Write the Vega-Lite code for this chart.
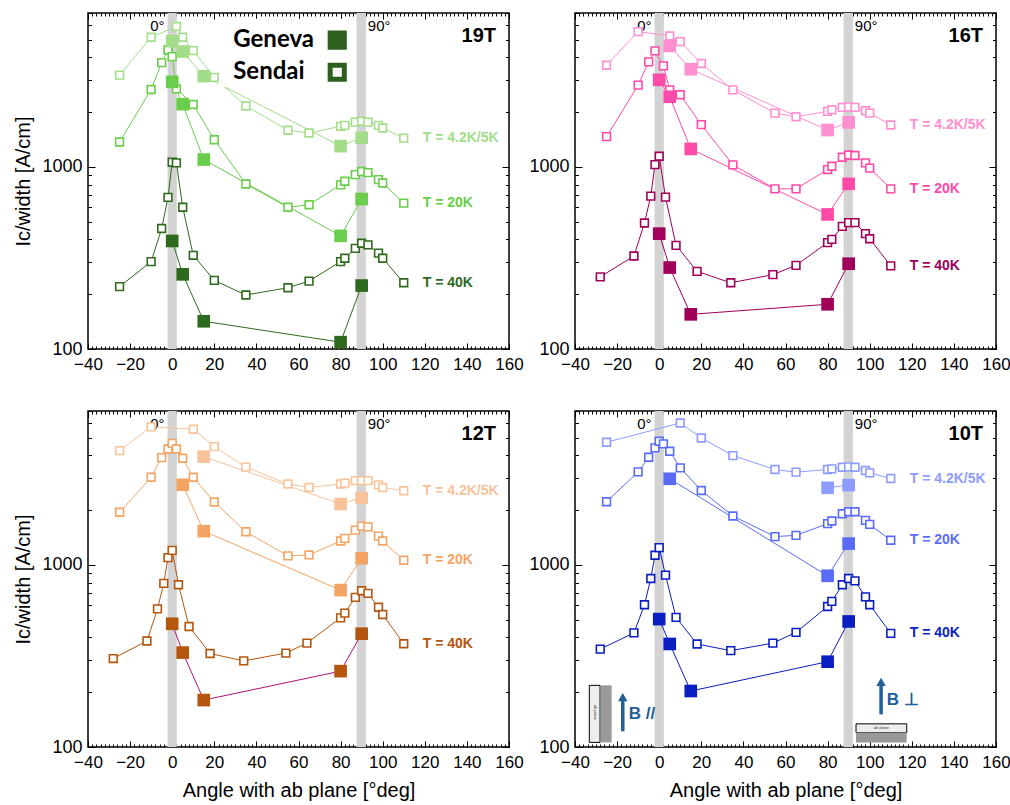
{
"$schema": "https://vega.github.io/schema/vega-lite/v6.json",
"padding": {"left": 13, "top": 11, "right": 5, "bottom": 2},
"config": {"font": "Liberation Sans", "view": {"stroke": "#000", "strokeWidth": 1.5}, "axis": {"labelColor": "#000", "tickColor": "#000", "titleColor": "#000", "titleFontWeight": "normal", "labelFont": "Liberation Sans", "titleFont": "Liberation Sans"}},
"datasets": {
"bands": [{"lo": -2.2, "hi": 2.2, "lbl": "0°"}, {"lo": 87.6, "hi": 92, "lbl": "90°"}],
"panels": [{"p": "19T"}, {"p": "16T"}, {"p": "12T"}, {"p": "10T"}],
"d": [
{"p":"19T","T":"4.2K/5K","lab":"Sendai","a":-25,"v":3190},{"p":"19T","T":"4.2K/5K","lab":"Sendai","a":-10,"v":5150},{"p":"19T","T":"4.2K/5K","lab":"Sendai","a":2,"v":5900},{"p":"19T","T":"4.2K/5K","lab":"Sendai","a":5,"v":5150},{"p":"19T","T":"4.2K/5K","lab":"Sendai","a":10,"v":4350},{"p":"19T","T":"4.2K/5K","lab":"Sendai","a":20,"v":3100},{"p":"19T","T":"4.2K/5K","lab":"Sendai","a":35,"v":2160},{"p":"19T","T":"4.2K/5K","lab":"Sendai","a":55,"v":1590},{"p":"19T","T":"4.2K/5K","lab":"Sendai","a":65,"v":1535},{"p":"19T","T":"4.2K/5K","lab":"Sendai","a":80,"v":1670},{"p":"19T","T":"4.2K/5K","lab":"Sendai","a":82,"v":1690},{"p":"19T","T":"4.2K/5K","lab":"Sendai","a":87,"v":1760},{"p":"19T","T":"4.2K/5K","lab":"Sendai","a":90,"v":1780},{"p":"19T","T":"4.2K/5K","lab":"Sendai","a":93,"v":1760},{"p":"19T","T":"4.2K/5K","lab":"Sendai","a":98,"v":1690},{"p":"19T","T":"4.2K/5K","lab":"Sendai","a":100,"v":1635},{"p":"19T","T":"4.2K/5K","lab":"Sendai","a":110,"v":1440},
{"p":"19T","T":"4.2K/5K","lab":"Geneva","a":0,"v":4900},{"p":"19T","T":"4.2K/5K","lab":"Geneva","a":5,"v":4300},{"p":"19T","T":"4.2K/5K","lab":"Geneva","a":15,"v":3150},{"p":"19T","T":"4.2K/5K","lab":"Geneva","a":80,"v":1300},{"p":"19T","T":"4.2K/5K","lab":"Geneva","a":90,"v":1445},
{"p":"19T","T":"20K","lab":"Sendai","a":-25,"v":1370},{"p":"19T","T":"20K","lab":"Sendai","a":-10,"v":2660},{"p":"19T","T":"20K","lab":"Sendai","a":-5,"v":3740},{"p":"19T","T":"20K","lab":"Sendai","a":-2,"v":4385},{"p":"19T","T":"20K","lab":"Sendai","a":0,"v":4030},{"p":"19T","T":"20K","lab":"Sendai","a":2,"v":2680},{"p":"19T","T":"20K","lab":"Sendai","a":10,"v":2200},{"p":"19T","T":"20K","lab":"Sendai","a":20,"v":1410},{"p":"19T","T":"20K","lab":"Sendai","a":35,"v":806},{"p":"19T","T":"20K","lab":"Sendai","a":55,"v":600},{"p":"19T","T":"20K","lab":"Sendai","a":65,"v":620},{"p":"19T","T":"20K","lab":"Sendai","a":80,"v":796},{"p":"19T","T":"20K","lab":"Sendai","a":82,"v":834},{"p":"19T","T":"20K","lab":"Sendai","a":87,"v":907},{"p":"19T","T":"20K","lab":"Sendai","a":90,"v":943},{"p":"19T","T":"20K","lab":"Sendai","a":93,"v":930},{"p":"19T","T":"20K","lab":"Sendai","a":98,"v":851},{"p":"19T","T":"20K","lab":"Sendai","a":100,"v":816},{"p":"19T","T":"20K","lab":"Sendai","a":110,"v":633},
{"p":"19T","T":"20K","lab":"Geneva","a":0,"v":2930},{"p":"19T","T":"20K","lab":"Geneva","a":5,"v":2210},{"p":"19T","T":"20K","lab":"Geneva","a":15,"v":1097},{"p":"19T","T":"20K","lab":"Geneva","a":80,"v":418},{"p":"19T","T":"20K","lab":"Geneva","a":90,"v":666},
{"p":"19T","T":"40K","lab":"Sendai","a":-25,"v":220},{"p":"19T","T":"40K","lab":"Sendai","a":-10,"v":302},{"p":"19T","T":"40K","lab":"Sendai","a":-5,"v":459},{"p":"19T","T":"40K","lab":"Sendai","a":-2,"v":680},{"p":"19T","T":"40K","lab":"Sendai","a":0,"v":1061},{"p":"19T","T":"40K","lab":"Sendai","a":2,"v":1052},{"p":"19T","T":"40K","lab":"Sendai","a":5,"v":600},{"p":"19T","T":"40K","lab":"Sendai","a":10,"v":327},{"p":"19T","T":"40K","lab":"Sendai","a":20,"v":238},{"p":"19T","T":"40K","lab":"Sendai","a":35,"v":198},{"p":"19T","T":"40K","lab":"Sendai","a":55,"v":217},{"p":"19T","T":"40K","lab":"Sendai","a":65,"v":236},{"p":"19T","T":"40K","lab":"Sendai","a":80,"v":302},{"p":"19T","T":"40K","lab":"Sendai","a":82,"v":315},{"p":"19T","T":"40K","lab":"Sendai","a":87,"v":357},{"p":"19T","T":"40K","lab":"Sendai","a":90,"v":381},{"p":"19T","T":"40K","lab":"Sendai","a":93,"v":373},{"p":"19T","T":"40K","lab":"Sendai","a":98,"v":336},{"p":"19T","T":"40K","lab":"Sendai","a":100,"v":315},{"p":"19T","T":"40K","lab":"Sendai","a":110,"v":231},
{"p":"19T","T":"40K","lab":"Geneva","a":0,"v":392},{"p":"19T","T":"40K","lab":"Geneva","a":5,"v":257},{"p":"19T","T":"40K","lab":"Geneva","a":15,"v":142},{"p":"19T","T":"40K","lab":"Geneva","a":80,"v":109},{"p":"19T","T":"40K","lab":"Geneva","a":90,"v":223},

{"p":"16T","T":"4.2K/5K","lab":"Sendai","a":-25,"v":3617},{"p":"16T","T":"4.2K/5K","lab":"Sendai","a":-10,"v":5530},{"p":"16T","T":"4.2K/5K","lab":"Sendai","a":5,"v":5236},{"p":"16T","T":"4.2K/5K","lab":"Sendai","a":10,"v":4874},{"p":"16T","T":"4.2K/5K","lab":"Sendai","a":20,"v":3696},{"p":"16T","T":"4.2K/5K","lab":"Sendai","a":35,"v":2650},{"p":"16T","T":"4.2K/5K","lab":"Sendai","a":55,"v":1975},{"p":"16T","T":"4.2K/5K","lab":"Sendai","a":65,"v":1886},{"p":"16T","T":"4.2K/5K","lab":"Sendai","a":80,"v":2017},{"p":"16T","T":"4.2K/5K","lab":"Sendai","a":82,"v":2060},{"p":"16T","T":"4.2K/5K","lab":"Sendai","a":87,"v":2121},{"p":"16T","T":"4.2K/5K","lab":"Sendai","a":90,"v":2137},{"p":"16T","T":"4.2K/5K","lab":"Sendai","a":93,"v":2121},{"p":"16T","T":"4.2K/5K","lab":"Sendai","a":98,"v":2034},{"p":"16T","T":"4.2K/5K","lab":"Sendai","a":100,"v":1975},{"p":"16T","T":"4.2K/5K","lab":"Sendai","a":110,"v":1698},
{"p":"16T","T":"4.2K/5K","lab":"Geneva","a":5,"v":4616},{"p":"16T","T":"4.2K/5K","lab":"Geneva","a":15,"v":3438},{"p":"16T","T":"4.2K/5K","lab":"Geneva","a":80,"v":1594},{"p":"16T","T":"4.2K/5K","lab":"Geneva","a":90,"v":1756},
{"p":"16T","T":"20K","lab":"Sendai","a":-25,"v":1466},{"p":"16T","T":"20K","lab":"Sendai","a":-10,"v":2811},{"p":"16T","T":"20K","lab":"Sendai","a":-5,"v":3773},{"p":"16T","T":"20K","lab":"Sendai","a":-2,"v":4335},{"p":"16T","T":"20K","lab":"Sendai","a":2,"v":3588},{"p":"16T","T":"20K","lab":"Sendai","a":5,"v":2650},{"p":"16T","T":"20K","lab":"Sendai","a":10,"v":2489},{"p":"16T","T":"20K","lab":"Sendai","a":20,"v":1705},{"p":"16T","T":"20K","lab":"Sendai","a":35,"v":1026},{"p":"16T","T":"20K","lab":"Sendai","a":55,"v":758},{"p":"16T","T":"20K","lab":"Sendai","a":65,"v":758},{"p":"16T","T":"20K","lab":"Sendai","a":80,"v":967},{"p":"16T","T":"20K","lab":"Sendai","a":82,"v":1008},{"p":"16T","T":"20K","lab":"Sendai","a":87,"v":1130},{"p":"16T","T":"20K","lab":"Sendai","a":90,"v":1163},{"p":"16T","T":"20K","lab":"Sendai","a":93,"v":1155},{"p":"16T","T":"20K","lab":"Sendai","a":98,"v":1052},{"p":"16T","T":"20K","lab":"Sendai","a":100,"v":984},{"p":"16T","T":"20K","lab":"Sendai","a":110,"v":758},
{"p":"16T","T":"20K","lab":"Geneva","a":0,"v":3006},{"p":"16T","T":"20K","lab":"Geneva","a":5,"v":2427},{"p":"16T","T":"20K","lab":"Geneva","a":15,"v":1255},{"p":"16T","T":"20K","lab":"Geneva","a":80,"v":548},{"p":"16T","T":"20K","lab":"Geneva","a":90,"v":807},
{"p":"16T","T":"40K","lab":"Sendai","a":-28,"v":249},{"p":"16T","T":"40K","lab":"Sendai","a":-12,"v":324},{"p":"16T","T":"40K","lab":"Sendai","a":-7,"v":492},{"p":"16T","T":"40K","lab":"Sendai","a":-4,"v":691},{"p":"16T","T":"40K","lab":"Sendai","a":-2,"v":1030},{"p":"16T","T":"40K","lab":"Sendai","a":0,"v":1144},{"p":"16T","T":"40K","lab":"Sendai","a":3,"v":682},{"p":"16T","T":"40K","lab":"Sendai","a":8,"v":371},{"p":"16T","T":"40K","lab":"Sendai","a":18,"v":267},{"p":"16T","T":"40K","lab":"Sendai","a":34,"v":231},{"p":"16T","T":"40K","lab":"Sendai","a":54,"v":256},{"p":"16T","T":"40K","lab":"Sendai","a":65,"v":288},{"p":"16T","T":"40K","lab":"Sendai","a":80,"v":384},{"p":"16T","T":"40K","lab":"Sendai","a":82,"v":400},{"p":"16T","T":"40K","lab":"Sendai","a":87,"v":471},{"p":"16T","T":"40K","lab":"Sendai","a":90,"v":494},{"p":"16T","T":"40K","lab":"Sendai","a":93,"v":494},{"p":"16T","T":"40K","lab":"Sendai","a":98,"v":430},{"p":"16T","T":"40K","lab":"Sendai","a":100,"v":403},{"p":"16T","T":"40K","lab":"Sendai","a":110,"v":286},
{"p":"16T","T":"40K","lab":"Geneva","a":0,"v":430},{"p":"16T","T":"40K","lab":"Geneva","a":5,"v":280},{"p":"16T","T":"40K","lab":"Geneva","a":15,"v":155},{"p":"16T","T":"40K","lab":"Geneva","a":80,"v":176},{"p":"16T","T":"40K","lab":"Geneva","a":90,"v":294},

{"p":"12T","T":"4.2K/5K","lab":"Sendai","a":-25,"v":4240},{"p":"12T","T":"4.2K/5K","lab":"Sendai","a":-10,"v":5730},{"p":"12T","T":"4.2K/5K","lab":"Sendai","a":10,"v":5560},{"p":"12T","T":"4.2K/5K","lab":"Sendai","a":20,"v":4460},{"p":"12T","T":"4.2K/5K","lab":"Sendai","a":35,"v":3440},{"p":"12T","T":"4.2K/5K","lab":"Sendai","a":55,"v":2780},{"p":"12T","T":"4.2K/5K","lab":"Sendai","a":65,"v":2660},{"p":"12T","T":"4.2K/5K","lab":"Sendai","a":80,"v":2780},{"p":"12T","T":"4.2K/5K","lab":"Sendai","a":82,"v":2810},{"p":"12T","T":"4.2K/5K","lab":"Sendai","a":87,"v":2900},{"p":"12T","T":"4.2K/5K","lab":"Sendai","a":90,"v":2900},{"p":"12T","T":"4.2K/5K","lab":"Sendai","a":93,"v":2900},{"p":"12T","T":"4.2K/5K","lab":"Sendai","a":98,"v":2750},{"p":"12T","T":"4.2K/5K","lab":"Sendai","a":100,"v":2660},{"p":"12T","T":"4.2K/5K","lab":"Sendai","a":110,"v":2555},
{"p":"12T","T":"4.2K/5K","lab":"Geneva","a":15,"v":3930},{"p":"12T","T":"4.2K/5K","lab":"Geneva","a":80,"v":2160},{"p":"12T","T":"4.2K/5K","lab":"Geneva","a":90,"v":2330},
{"p":"12T","T":"20K","lab":"Sendai","a":-25,"v":1945},{"p":"12T","T":"20K","lab":"Sendai","a":-10,"v":3030},{"p":"12T","T":"20K","lab":"Sendai","a":-5,"v":3880},{"p":"12T","T":"20K","lab":"Sendai","a":-2,"v":4330},{"p":"12T","T":"20K","lab":"Sendai","a":0,"v":4650},{"p":"12T","T":"20K","lab":"Sendai","a":2,"v":4330},{"p":"12T","T":"20K","lab":"Sendai","a":5,"v":3850},{"p":"12T","T":"20K","lab":"Sendai","a":10,"v":3030},{"p":"12T","T":"20K","lab":"Sendai","a":20,"v":2215},{"p":"12T","T":"20K","lab":"Sendai","a":35,"v":1520},{"p":"12T","T":"20K","lab":"Sendai","a":55,"v":1120},{"p":"12T","T":"20K","lab":"Sendai","a":65,"v":1134},{"p":"12T","T":"20K","lab":"Sendai","a":80,"v":1352},{"p":"12T","T":"20K","lab":"Sendai","a":82,"v":1398},{"p":"12T","T":"20K","lab":"Sendai","a":87,"v":1552},{"p":"12T","T":"20K","lab":"Sendai","a":90,"v":1633},{"p":"12T","T":"20K","lab":"Sendai","a":93,"v":1617},{"p":"12T","T":"20K","lab":"Sendai","a":98,"v":1439},{"p":"12T","T":"20K","lab":"Sendai","a":100,"v":1352},{"p":"12T","T":"20K","lab":"Sendai","a":110,"v":1060},
{"p":"12T","T":"20K","lab":"Geneva","a":5,"v":2754},{"p":"12T","T":"20K","lab":"Geneva","a":15,"v":1532},{"p":"12T","T":"20K","lab":"Geneva","a":80,"v":727},{"p":"12T","T":"20K","lab":"Geneva","a":90,"v":1087},
{"p":"12T","T":"40K","lab":"Sendai","a":-28,"v":306},{"p":"12T","T":"40K","lab":"Sendai","a":-12,"v":382},{"p":"12T","T":"40K","lab":"Sendai","a":-7,"v":573},{"p":"12T","T":"40K","lab":"Sendai","a":-4,"v":791},{"p":"12T","T":"40K","lab":"Sendai","a":-2,"v":1096},{"p":"12T","T":"40K","lab":"Sendai","a":0,"v":1202},{"p":"12T","T":"40K","lab":"Sendai","a":3,"v":778},{"p":"12T","T":"40K","lab":"Sendai","a":8,"v":459},{"p":"12T","T":"40K","lab":"Sendai","a":18,"v":326},{"p":"12T","T":"40K","lab":"Sendai","a":34,"v":297},{"p":"12T","T":"40K","lab":"Sendai","a":54,"v":328},{"p":"12T","T":"40K","lab":"Sendai","a":64,"v":372},{"p":"12T","T":"40K","lab":"Sendai","a":80,"v":512},{"p":"12T","T":"40K","lab":"Sendai","a":82,"v":543},{"p":"12T","T":"40K","lab":"Sendai","a":87,"v":663},{"p":"12T","T":"40K","lab":"Sendai","a":90,"v":721},{"p":"12T","T":"40K","lab":"Sendai","a":93,"v":698},{"p":"12T","T":"40K","lab":"Sendai","a":98,"v":585},{"p":"12T","T":"40K","lab":"Sendai","a":100,"v":534},{"p":"12T","T":"40K","lab":"Sendai","a":110,"v":369},
{"p":"12T","T":"40K","lab":"Geneva","a":0,"v":475},{"p":"12T","T":"40K","lab":"Geneva","a":5,"v":330},{"p":"12T","T":"40K","lab":"Geneva","a":15,"v":181},{"p":"12T","T":"40K","lab":"Geneva","a":80,"v":261},{"p":"12T","T":"40K","lab":"Geneva","a":90,"v":419},

{"p":"10T","T":"4.2K/5K","lab":"Sendai","a":-25,"v":4714},{"p":"10T","T":"4.2K/5K","lab":"Sendai","a":10,"v":6016},{"p":"10T","T":"4.2K/5K","lab":"Sendai","a":20,"v":4977},{"p":"10T","T":"4.2K/5K","lab":"Sendai","a":35,"v":3984},{"p":"10T","T":"4.2K/5K","lab":"Sendai","a":55,"v":3340},{"p":"10T","T":"4.2K/5K","lab":"Sendai","a":65,"v":3230},{"p":"10T","T":"4.2K/5K","lab":"Sendai","a":80,"v":3340},{"p":"10T","T":"4.2K/5K","lab":"Sendai","a":82,"v":3368},{"p":"10T","T":"4.2K/5K","lab":"Sendai","a":87,"v":3439},{"p":"10T","T":"4.2K/5K","lab":"Sendai","a":90,"v":3455},{"p":"10T","T":"4.2K/5K","lab":"Sendai","a":93,"v":3439},{"p":"10T","T":"4.2K/5K","lab":"Sendai","a":98,"v":3298},{"p":"10T","T":"4.2K/5K","lab":"Sendai","a":100,"v":3202},{"p":"10T","T":"4.2K/5K","lab":"Sendai","a":110,"v":2981},
{"p":"10T","T":"4.2K/5K","lab":"Geneva","a":80,"v":2651},{"p":"10T","T":"4.2K/5K","lab":"Geneva","a":90,"v":2742},
{"p":"10T","T":"20K","lab":"Sendai","a":-25,"v":2222},{"p":"10T","T":"20K","lab":"Sendai","a":-10,"v":3243},{"p":"10T","T":"20K","lab":"Sendai","a":-5,"v":3902},{"p":"10T","T":"20K","lab":"Sendai","a":-2,"v":4390},{"p":"10T","T":"20K","lab":"Sendai","a":0,"v":4773},{"p":"10T","T":"20K","lab":"Sendai","a":2,"v":4616},{"p":"10T","T":"20K","lab":"Sendai","a":5,"v":4208},{"p":"10T","T":"20K","lab":"Sendai","a":10,"v":3412},{"p":"10T","T":"20K","lab":"Sendai","a":20,"v":2563},{"p":"10T","T":"20K","lab":"Sendai","a":35,"v":1855},{"p":"10T","T":"20K","lab":"Sendai","a":55,"v":1430},{"p":"10T","T":"20K","lab":"Sendai","a":65,"v":1453},{"p":"10T","T":"20K","lab":"Sendai","a":80,"v":1684},{"p":"10T","T":"20K","lab":"Sendai","a":82,"v":1741},{"p":"10T","T":"20K","lab":"Sendai","a":87,"v":1910},{"p":"10T","T":"20K","lab":"Sendai","a":90,"v":1959},{"p":"10T","T":"20K","lab":"Sendai","a":93,"v":1959},{"p":"10T","T":"20K","lab":"Sendai","a":98,"v":1756},{"p":"10T","T":"20K","lab":"Sendai","a":100,"v":1670},{"p":"10T","T":"20K","lab":"Sendai","a":110,"v":1365},
{"p":"10T","T":"20K","lab":"Geneva","a":5,"v":2970},{"p":"10T","T":"20K","lab":"Geneva","a":80,"v":871},{"p":"10T","T":"20K","lab":"Geneva","a":90,"v":1309},
{"p":"10T","T":"40K","lab":"Sendai","a":-28,"v":345},{"p":"10T","T":"40K","lab":"Sendai","a":-12,"v":423},{"p":"10T","T":"40K","lab":"Sendai","a":-7,"v":604},{"p":"10T","T":"40K","lab":"Sendai","a":-4,"v":842},{"p":"10T","T":"40K","lab":"Sendai","a":-2,"v":1130},{"p":"10T","T":"40K","lab":"Sendai","a":0,"v":1244},{"p":"10T","T":"40K","lab":"Sendai","a":3,"v":878},{"p":"10T","T":"40K","lab":"Sendai","a":8,"v":515},{"p":"10T","T":"40K","lab":"Sendai","a":18,"v":368},{"p":"10T","T":"40K","lab":"Sendai","a":34,"v":338},{"p":"10T","T":"40K","lab":"Sendai","a":54,"v":372},{"p":"10T","T":"40K","lab":"Sendai","a":65,"v":426},{"p":"10T","T":"40K","lab":"Sendai","a":80,"v":591},{"p":"10T","T":"40K","lab":"Sendai","a":82,"v":630},{"p":"10T","T":"40K","lab":"Sendai","a":87,"v":778},{"p":"10T","T":"40K","lab":"Sendai","a":90,"v":842},{"p":"10T","T":"40K","lab":"Sendai","a":93,"v":817},{"p":"10T","T":"40K","lab":"Sendai","a":98,"v":668},{"p":"10T","T":"40K","lab":"Sendai","a":100,"v":604},{"p":"10T","T":"40K","lab":"Sendai","a":110,"v":421},
{"p":"10T","T":"40K","lab":"Geneva","a":0,"v":504},{"p":"10T","T":"40K","lab":"Geneva","a":5,"v":368},{"p":"10T","T":"40K","lab":"Geneva","a":15,"v":203},{"p":"10T","T":"40K","lab":"Geneva","a":80,"v":294},{"p":"10T","T":"40K","lab":"Geneva","a":90,"v":489}
]},
"bounds": "flush",
"columns": 2,
"spacing": {"row": 62, "column": 66},
"resolve": {"scale": {"color": "independent", "stroke": "independent", "x": "independent", "y": "independent"}, "axis": {"x": "independent", "y": "independent"}},
"concat": [
{
"width": 421, "height": 336,
"resolve": {"axis": {"x": "independent", "y": "independent"}},
"layer": [
{"data": {"name": "bands"}, "mark": {"type": "rect", "color": "#d3d3d3"}, "encoding": {"x": {"field": "lo", "type": "quantitative", "scale": {"domain": [-40, 160], "nice": false, "zero": false}, "axis": null}, "x2": {"field": "hi"}}},
{"data": {"name": "bands"}, "transform": [{"filter": "datum.lo < 0"}], "mark": {"type": "text", "align": "right", "dx": -3, "fontSize": 15, "baseline": "alphabetic", "color": "#000"}, "encoding": {"x": {"field": "lo", "type": "quantitative", "axis": null}, "y": {"datum": 5574, "type": "quantitative", "scale": {"type": "log", "domain": [100, 7000], "nice": false}, "axis": null}, "text": {"field": "lbl"}}},
{"data": {"name": "bands"}, "transform": [{"filter": "datum.lo > 0"}], "mark": {"type": "text", "align": "left", "dx": 2, "fontSize": 15, "baseline": "alphabetic", "color": "#000"}, "encoding": {"x": {"field": "hi", "type": "quantitative", "axis": null}, "y": {"datum": 5574, "type": "quantitative", "axis": null}, "text": {"field": "lbl"}}},
{"data": {"name": "d"}, "transform": [{"filter": "datum.p == '19T'"}, {"calculate": "datum.T + '|' + datum.lab", "as": "k"}], "mark": {"type": "line", "strokeWidth": 1}, "encoding": {
 "x": {"field": "a", "type": "quantitative", "axis": {"orient": "bottom", "values": [-40,-20,0,20,40,60,80,100,120,140,160], "tickSize": -6, "labelPadding": 13, "labelFontSize": 17, "labelFlush": false, "labelOverlap": false, "domain": false, "grid": false, "title": null}},
 "y": {"field": "v", "type": "quantitative", "axis": {"orient": "left", "values": [100, 1000], "format": "d", "tickSize": -7, "labelPadding": 13, "labelFontSize": 18, "domain": false, "grid": false, "title": "Ic/width [A/cm]", "titleFontSize": 20, "titlePadding": 8}},
 "stroke": {"field": "k", "type": "nominal", "scale": {"domain": ["4.2K/5K|Sendai","4.2K/5K|Geneva","20K|Sendai","20K|Geneva","40K|Sendai","40K|Geneva"], "range": ["#a3dd8a","#a3dd8a","#6acd4b","#6acd4b","#2e6a1e","#2e6a1e"]}, "legend": null}}},
{"data": {"name": "panels"}, "transform": [{"filter": "datum.p == '19T'"}], "mark": {"type": "rect", "color": "white"}, "encoding": {"x": {"datum": 22, "type": "quantitative", "axis": null}, "x2": {"datum": 86}, "y": {"datum": 6500, "type": "quantitative", "axis": null}, "y2": {"datum": 2750}}},
{"data": {"name": "d"}, "transform": [{"filter": "datum.p == '19T' && datum.lab == 'Sendai'"}], "mark": {"type": "point", "shape": "square", "filled": false, "fill": "white", "size": 60, "strokeWidth": 1.6, "opacity": 1}, "encoding": {
 "x": {"field": "a", "type": "quantitative", "axis": {"orient": "bottom", "values": [-40,-38,-36,-34,-32,-30,-28,-26,-24,-22,-20,-18,-16,-14,-12,-10,-8,-6,-4,-2,0,2,4,6,8,10,12,14,16,18,20,22,24,26,28,30,32,34,36,38,40,42,44,46,48,50,52,54,56,58,60,62,64,66,68,70,72,74,76,78,80,82,84,86,88,90,92,94,96,98,100,102,104,106,108,110,112,114,116,118,120,122,124,126,128,130,132,134,136,138,140,142,144,146,148,150,152,154,156,158,160], "tickSize": -3, "labels": false, "domain": false, "grid": false, "title": null}},
 "y": {"field": "v", "type": "quantitative", "axis": {"orient": "left", "values": [200,300,400,500,600,700,800,900,2000,3000,4000,5000,6000,7000], "tickSize": -3.5, "labels": false, "domain": false, "grid": false, "title": null}},
 "color": {"field": "T", "type": "nominal", "scale": {"domain": ["4.2K/5K","20K","40K"], "range": ["#a3dd8a","#6acd4b","#2e6a1e"]}, "legend": null}}},
{"data": {"name": "d"}, "transform": [{"filter": "datum.p == '19T' && datum.lab == 'Geneva'"}], "mark": {"type": "point", "shape": "square", "filled": true, "size": 160, "opacity": 1}, "encoding": {
 "x": {"field": "a", "type": "quantitative", "axis": {"orient": "top", "values": [-40,-20,0,20,40,60,80,100,120,140,160], "tickSize": -6, "labels": false, "domain": false, "grid": false, "title": null}},
 "y": {"field": "v", "type": "quantitative", "axis": {"orient": "right", "values": [100, 1000], "tickSize": -7, "labels": false, "domain": false, "grid": false, "title": null}},
 "color": {"field": "T", "type": "nominal", "legend": null}}},
{"data": {"name": "d"}, "transform": [{"filter": "datum.p == '19T' && datum.lab == 'Sendai' && datum.a == 110"}, {"calculate": "'T = ' + datum.T", "as": "lbl"}], "mark": {"type": "text", "align": "left", "dx": 19, "fontSize": 14, "fontWeight": "bold", "baseline": "middle"}, "encoding": {
 "x": {"field": "a", "type": "quantitative", "axis": {"orient": "top", "values": [-40,-38,-36,-34,-32,-30,-28,-26,-24,-22,-20,-18,-16,-14,-12,-10,-8,-6,-4,-2,0,2,4,6,8,10,12,14,16,18,20,22,24,26,28,30,32,34,36,38,40,42,44,46,48,50,52,54,56,58,60,62,64,66,68,70,72,74,76,78,80,82,84,86,88,90,92,94,96,98,100,102,104,106,108,110,112,114,116,118,120,122,124,126,128,130,132,134,136,138,140,142,144,146,148,150,152,154,156,158,160], "tickSize": -3, "labels": false, "domain": false, "grid": false, "title": null}},
 "y": {"field": "v", "type": "quantitative", "axis": {"orient": "right", "values": [200,300,400,500,600,700,800,900,2000,3000,4000,5000,6000,7000], "tickSize": -3.5, "labels": false, "domain": false, "grid": false, "title": null}},
 "color": {"field": "T", "type": "nominal", "legend": null},
 "text": {"field": "lbl"}}},
{"data": {"name": "panels"}, "transform": [{"filter": "datum.p == '19T'"}], "mark": {"type": "text", "align": "right", "dx": -13, "fontSize": 20, "fontWeight": "bold", "baseline": "alphabetic", "color": "#000"}, "encoding": {"x": {"datum": 160, "type": "quantitative", "axis": null}, "y": {"datum": 4843, "type": "quantitative", "axis": null}, "text": {"field": "p"}}},
{"data": {"name": "panels"}, "transform": [{"filter": "datum.p == '19T'"}], "mark": {"type": "text", "text": "Geneva", "align": "left", "baseline": "middle", "font": "Lato", "fontSize": 24, "fontWeight": "bold", "color": "#000"}, "encoding": {"x": {"datum": 29, "type": "quantitative", "axis": null}, "y": {"datum": 4970, "type": "quantitative", "axis": null}}},
{"data": {"name": "panels"}, "transform": [{"filter": "datum.p == '19T'"}], "mark": {"type": "text", "text": "Sendai", "align": "left", "baseline": "middle", "font": "Lato", "fontSize": 24, "fontWeight": "bold", "color": "#000"}, "encoding": {"x": {"datum": 29, "type": "quantitative", "axis": null}, "y": {"datum": 3309, "type": "quantitative", "axis": null}}},
{"data": {"name": "panels"}, "transform": [{"filter": "datum.p == '19T'"}], "mark": {"type": "point", "shape": "square", "filled": true, "size": 200, "color": "#2f5f1e", "stroke": "#2f5f1e", "strokeWidth": 5, "opacity": 1}, "encoding": {"x": {"datum": 78.4, "type": "quantitative", "axis": null}, "y": {"datum": 4970, "type": "quantitative", "axis": null}}},
{"data": {"name": "panels"}, "transform": [{"filter": "datum.p == '19T'"}], "mark": {"type": "point", "shape": "square", "filled": false, "fill": "white", "size": 200, "stroke": "#2f5f1e", "strokeWidth": 5, "opacity": 1}, "encoding": {"x": {"datum": 78.4, "type": "quantitative", "axis": null}, "y": {"datum": 3309, "type": "quantitative", "axis": null}}}
]},
{
"width": 421, "height": 336,
"resolve": {"axis": {"x": "independent", "y": "independent"}},
"layer": [
{"data": {"name": "bands"}, "mark": {"type": "rect", "color": "#d3d3d3"}, "encoding": {"x": {"field": "lo", "type": "quantitative", "scale": {"domain": [-40, 160], "nice": false, "zero": false}, "axis": null}, "x2": {"field": "hi"}}},
{"data": {"name": "bands"}, "transform": [{"filter": "datum.lo < 0"}], "mark": {"type": "text", "align": "right", "dx": -3, "fontSize": 15, "baseline": "alphabetic", "color": "#000"}, "encoding": {"x": {"field": "lo", "type": "quantitative", "axis": null}, "y": {"datum": 5574, "type": "quantitative", "scale": {"type": "log", "domain": [100, 7000], "nice": false}, "axis": null}, "text": {"field": "lbl"}}},
{"data": {"name": "bands"}, "transform": [{"filter": "datum.lo > 0"}], "mark": {"type": "text", "align": "left", "dx": 2, "fontSize": 15, "baseline": "alphabetic", "color": "#000"}, "encoding": {"x": {"field": "hi", "type": "quantitative", "axis": null}, "y": {"datum": 5574, "type": "quantitative", "axis": null}, "text": {"field": "lbl"}}},
{"data": {"name": "d"}, "transform": [{"filter": "datum.p == '16T'"}, {"calculate": "datum.T + '|' + datum.lab", "as": "k"}], "mark": {"type": "line", "strokeWidth": 1}, "encoding": {
 "x": {"field": "a", "type": "quantitative", "axis": {"orient": "bottom", "values": [-40,-20,0,20,40,60,80,100,120,140,160], "tickSize": -6, "labelPadding": 13, "labelFontSize": 17, "labelFlush": false, "labelOverlap": false, "domain": false, "grid": false, "title": null}},
 "y": {"field": "v", "type": "quantitative", "axis": {"orient": "left", "values": [100, 1000], "format": "d", "tickSize": -7, "labelPadding": 13, "labelFontSize": 18, "domain": false, "grid": false, "title": null}},
 "stroke": {"field": "k", "type": "nominal", "scale": {"domain": ["4.2K/5K|Sendai","4.2K/5K|Geneva","20K|Sendai","20K|Geneva","40K|Sendai","40K|Geneva"], "range": ["#ff8fcf","#ff8fcf","#ff4aa8","#ff4aa8","#a0005a","#a0005a"]}, "legend": null}}},
{"data": {"name": "d"}, "transform": [{"filter": "datum.p == '16T' && datum.lab == 'Sendai'"}], "mark": {"type": "point", "shape": "square", "filled": false, "fill": "white", "size": 60, "strokeWidth": 1.6, "opacity": 1}, "encoding": {
 "x": {"field": "a", "type": "quantitative", "axis": {"orient": "bottom", "values": [-40,-38,-36,-34,-32,-30,-28,-26,-24,-22,-20,-18,-16,-14,-12,-10,-8,-6,-4,-2,0,2,4,6,8,10,12,14,16,18,20,22,24,26,28,30,32,34,36,38,40,42,44,46,48,50,52,54,56,58,60,62,64,66,68,70,72,74,76,78,80,82,84,86,88,90,92,94,96,98,100,102,104,106,108,110,112,114,116,118,120,122,124,126,128,130,132,134,136,138,140,142,144,146,148,150,152,154,156,158,160], "tickSize": -3, "labels": false, "domain": false, "grid": false, "title": null}},
 "y": {"field": "v", "type": "quantitative", "axis": {"orient": "left", "values": [200,300,400,500,600,700,800,900,2000,3000,4000,5000,6000,7000], "tickSize": -3.5, "labels": false, "domain": false, "grid": false, "title": null}},
 "color": {"field": "T", "type": "nominal", "scale": {"domain": ["4.2K/5K","20K","40K"], "range": ["#ff8fcf","#ff4aa8","#a0005a"]}, "legend": null}}},
{"data": {"name": "d"}, "transform": [{"filter": "datum.p == '16T' && datum.lab == 'Geneva'"}], "mark": {"type": "point", "shape": "square", "filled": true, "size": 160, "opacity": 1}, "encoding": {
 "x": {"field": "a", "type": "quantitative", "axis": {"orient": "top", "values": [-40,-20,0,20,40,60,80,100,120,140,160], "tickSize": -6, "labels": false, "domain": false, "grid": false, "title": null}},
 "y": {"field": "v", "type": "quantitative", "axis": {"orient": "right", "values": [100, 1000], "tickSize": -7, "labels": false, "domain": false, "grid": false, "title": null}},
 "color": {"field": "T", "type": "nominal", "legend": null}}},
{"data": {"name": "d"}, "transform": [{"filter": "datum.p == '16T' && datum.lab == 'Sendai' && datum.a == 110"}, {"calculate": "'T = ' + datum.T", "as": "lbl"}], "mark": {"type": "text", "align": "left", "dx": 19, "fontSize": 14, "fontWeight": "bold", "baseline": "middle"}, "encoding": {
 "x": {"field": "a", "type": "quantitative", "axis": {"orient": "top", "values": [-40,-38,-36,-34,-32,-30,-28,-26,-24,-22,-20,-18,-16,-14,-12,-10,-8,-6,-4,-2,0,2,4,6,8,10,12,14,16,18,20,22,24,26,28,30,32,34,36,38,40,42,44,46,48,50,52,54,56,58,60,62,64,66,68,70,72,74,76,78,80,82,84,86,88,90,92,94,96,98,100,102,104,106,108,110,112,114,116,118,120,122,124,126,128,130,132,134,136,138,140,142,144,146,148,150,152,154,156,158,160], "tickSize": -3, "labels": false, "domain": false, "grid": false, "title": null}},
 "y": {"field": "v", "type": "quantitative", "axis": {"orient": "right", "values": [200,300,400,500,600,700,800,900,2000,3000,4000,5000,6000,7000], "tickSize": -3.5, "labels": false, "domain": false, "grid": false, "title": null}},
 "color": {"field": "T", "type": "nominal", "legend": null},
 "text": {"field": "lbl"}}},
{"data": {"name": "panels"}, "transform": [{"filter": "datum.p == '16T'"}], "mark": {"type": "text", "align": "right", "dx": -13, "fontSize": 20, "fontWeight": "bold", "baseline": "alphabetic", "color": "#000"}, "encoding": {"x": {"datum": 160, "type": "quantitative", "axis": null}, "y": {"datum": 4843, "type": "quantitative", "axis": null}, "text": {"field": "p"}}}
]},
{
"width": 421, "height": 336,
"resolve": {"axis": {"x": "independent", "y": "independent"}},
"layer": [
{"data": {"name": "bands"}, "mark": {"type": "rect", "color": "#d3d3d3"}, "encoding": {"x": {"field": "lo", "type": "quantitative", "scale": {"domain": [-40, 160], "nice": false, "zero": false}, "axis": null}, "x2": {"field": "hi"}}},
{"data": {"name": "bands"}, "transform": [{"filter": "datum.lo < 0"}], "mark": {"type": "text", "align": "right", "dx": -3, "fontSize": 15, "baseline": "alphabetic", "color": "#000"}, "encoding": {"x": {"field": "lo", "type": "quantitative", "axis": null}, "y": {"datum": 5574, "type": "quantitative", "scale": {"type": "log", "domain": [100, 7000], "nice": false}, "axis": null}, "text": {"field": "lbl"}}},
{"data": {"name": "bands"}, "transform": [{"filter": "datum.lo > 0"}], "mark": {"type": "text", "align": "left", "dx": 2, "fontSize": 15, "baseline": "alphabetic", "color": "#000"}, "encoding": {"x": {"field": "hi", "type": "quantitative", "axis": null}, "y": {"datum": 5574, "type": "quantitative", "axis": null}, "text": {"field": "lbl"}}},
{"data": {"name": "d"}, "transform": [{"filter": "datum.p == '12T'"}, {"calculate": "datum.T + '|' + datum.lab", "as": "k"}], "mark": {"type": "line", "strokeWidth": 1}, "encoding": {
 "x": {"field": "a", "type": "quantitative", "axis": {"orient": "bottom", "values": [-40,-20,0,20,40,60,80,100,120,140,160], "tickSize": -6, "labelPadding": 13, "labelFontSize": 17, "labelFlush": false, "labelOverlap": false, "domain": false, "grid": false, "title": "Angle with ab plane [°deg]", "titleFontSize": 20, "titlePadding": 10}},
 "y": {"field": "v", "type": "quantitative", "axis": {"orient": "left", "values": [100, 1000], "format": "d", "tickSize": -7, "labelPadding": 13, "labelFontSize": 18, "domain": false, "grid": false, "title": "Ic/width [A/cm]", "titleFontSize": 20, "titlePadding": 8}},
 "stroke": {"field": "k", "type": "nominal", "scale": {"domain": ["4.2K/5K|Sendai","4.2K/5K|Geneva","20K|Sendai","20K|Geneva","40K|Sendai","40K|Geneva"], "range": ["#f8c39a","#f8c39a","#f4a462","#f4a462","#b4560e","#b0107a"]}, "legend": null}}},
{"data": {"name": "d"}, "transform": [{"filter": "datum.p == '12T' && datum.lab == 'Sendai'"}], "mark": {"type": "point", "shape": "square", "filled": false, "fill": "white", "size": 60, "strokeWidth": 1.6, "opacity": 1}, "encoding": {
 "x": {"field": "a", "type": "quantitative", "axis": {"orient": "bottom", "values": [-40,-38,-36,-34,-32,-30,-28,-26,-24,-22,-20,-18,-16,-14,-12,-10,-8,-6,-4,-2,0,2,4,6,8,10,12,14,16,18,20,22,24,26,28,30,32,34,36,38,40,42,44,46,48,50,52,54,56,58,60,62,64,66,68,70,72,74,76,78,80,82,84,86,88,90,92,94,96,98,100,102,104,106,108,110,112,114,116,118,120,122,124,126,128,130,132,134,136,138,140,142,144,146,148,150,152,154,156,158,160], "tickSize": -3, "labels": false, "domain": false, "grid": false, "title": null}},
 "y": {"field": "v", "type": "quantitative", "axis": {"orient": "left", "values": [200,300,400,500,600,700,800,900,2000,3000,4000,5000,6000,7000], "tickSize": -3.5, "labels": false, "domain": false, "grid": false, "title": null}},
 "color": {"field": "T", "type": "nominal", "scale": {"domain": ["4.2K/5K","20K","40K"], "range": ["#f8c39a","#f4a462","#b4560e"]}, "legend": null}}},
{"data": {"name": "d"}, "transform": [{"filter": "datum.p == '12T' && datum.lab == 'Geneva'"}], "mark": {"type": "point", "shape": "square", "filled": true, "size": 160, "opacity": 1}, "encoding": {
 "x": {"field": "a", "type": "quantitative", "axis": {"orient": "top", "values": [-40,-20,0,20,40,60,80,100,120,140,160], "tickSize": -6, "labels": false, "domain": false, "grid": false, "title": null}},
 "y": {"field": "v", "type": "quantitative", "axis": {"orient": "right", "values": [100, 1000], "tickSize": -7, "labels": false, "domain": false, "grid": false, "title": null}},
 "color": {"field": "T", "type": "nominal", "legend": null}}},
{"data": {"name": "d"}, "transform": [{"filter": "datum.p == '12T' && datum.lab == 'Sendai' && datum.a == 110"}, {"calculate": "'T = ' + datum.T", "as": "lbl"}], "mark": {"type": "text", "align": "left", "dx": 19, "fontSize": 14, "fontWeight": "bold", "baseline": "middle"}, "encoding": {
 "x": {"field": "a", "type": "quantitative", "axis": {"orient": "top", "values": [-40,-38,-36,-34,-32,-30,-28,-26,-24,-22,-20,-18,-16,-14,-12,-10,-8,-6,-4,-2,0,2,4,6,8,10,12,14,16,18,20,22,24,26,28,30,32,34,36,38,40,42,44,46,48,50,52,54,56,58,60,62,64,66,68,70,72,74,76,78,80,82,84,86,88,90,92,94,96,98,100,102,104,106,108,110,112,114,116,118,120,122,124,126,128,130,132,134,136,138,140,142,144,146,148,150,152,154,156,158,160], "tickSize": -3, "labels": false, "domain": false, "grid": false, "title": null}},
 "y": {"field": "v", "type": "quantitative", "axis": {"orient": "right", "values": [200,300,400,500,600,700,800,900,2000,3000,4000,5000,6000,7000], "tickSize": -3.5, "labels": false, "domain": false, "grid": false, "title": null}},
 "color": {"field": "T", "type": "nominal", "legend": null},
 "text": {"field": "lbl"}}},
{"data": {"name": "panels"}, "transform": [{"filter": "datum.p == '12T'"}], "mark": {"type": "text", "align": "right", "dx": -13, "fontSize": 20, "fontWeight": "bold", "baseline": "alphabetic", "color": "#000"}, "encoding": {"x": {"datum": 160, "type": "quantitative", "axis": null}, "y": {"datum": 4843, "type": "quantitative", "axis": null}, "text": {"field": "p"}}}
]},
{
"width": 421, "height": 336,
"resolve": {"axis": {"x": "independent", "y": "independent"}},
"layer": [
{"data": {"name": "bands"}, "mark": {"type": "rect", "color": "#d3d3d3"}, "encoding": {"x": {"field": "lo", "type": "quantitative", "scale": {"domain": [-40, 160], "nice": false, "zero": false}, "axis": null}, "x2": {"field": "hi"}}},
{"data": {"name": "bands"}, "transform": [{"filter": "datum.lo < 0"}], "mark": {"type": "text", "align": "right", "dx": -3, "fontSize": 15, "baseline": "alphabetic", "color": "#000"}, "encoding": {"x": {"field": "lo", "type": "quantitative", "axis": null}, "y": {"datum": 5574, "type": "quantitative", "scale": {"type": "log", "domain": [100, 7000], "nice": false}, "axis": null}, "text": {"field": "lbl"}}},
{"data": {"name": "bands"}, "transform": [{"filter": "datum.lo > 0"}], "mark": {"type": "text", "align": "left", "dx": 2, "fontSize": 15, "baseline": "alphabetic", "color": "#000"}, "encoding": {"x": {"field": "hi", "type": "quantitative", "axis": null}, "y": {"datum": 5574, "type": "quantitative", "axis": null}, "text": {"field": "lbl"}}},
{"data": {"name": "d"}, "transform": [{"filter": "datum.p == '10T'"}, {"calculate": "datum.T + '|' + datum.lab", "as": "k"}], "mark": {"type": "line", "strokeWidth": 1}, "encoding": {
 "x": {"field": "a", "type": "quantitative", "axis": {"orient": "bottom", "values": [-40,-20,0,20,40,60,80,100,120,140,160], "tickSize": -6, "labelPadding": 13, "labelFontSize": 17, "labelFlush": false, "labelOverlap": false, "domain": false, "grid": false, "title": "Angle with ab plane [°deg]", "titleFontSize": 20, "titlePadding": 10}},
 "y": {"field": "v", "type": "quantitative", "axis": {"orient": "left", "values": [100, 1000], "format": "d", "tickSize": -7, "labelPadding": 13, "labelFontSize": 18, "domain": false, "grid": false, "title": null}},
 "stroke": {"field": "k", "type": "nominal", "scale": {"domain": ["4.2K/5K|Sendai","4.2K/5K|Geneva","20K|Sendai","20K|Geneva","40K|Sendai","40K|Geneva"], "range": ["#8e9cff","#8e9cff","#5a6cf7","#5a6cf7","#0a1ec2","#0a1ec2"]}, "legend": null}}},
{"data": {"name": "d"}, "transform": [{"filter": "datum.p == '10T' && datum.lab == 'Sendai'"}], "mark": {"type": "point", "shape": "square", "filled": false, "fill": "white", "size": 60, "strokeWidth": 1.6, "opacity": 1}, "encoding": {
 "x": {"field": "a", "type": "quantitative", "axis": {"orient": "bottom", "values": [-40,-38,-36,-34,-32,-30,-28,-26,-24,-22,-20,-18,-16,-14,-12,-10,-8,-6,-4,-2,0,2,4,6,8,10,12,14,16,18,20,22,24,26,28,30,32,34,36,38,40,42,44,46,48,50,52,54,56,58,60,62,64,66,68,70,72,74,76,78,80,82,84,86,88,90,92,94,96,98,100,102,104,106,108,110,112,114,116,118,120,122,124,126,128,130,132,134,136,138,140,142,144,146,148,150,152,154,156,158,160], "tickSize": -3, "labels": false, "domain": false, "grid": false, "title": null}},
 "y": {"field": "v", "type": "quantitative", "axis": {"orient": "left", "values": [200,300,400,500,600,700,800,900,2000,3000,4000,5000,6000,7000], "tickSize": -3.5, "labels": false, "domain": false, "grid": false, "title": null}},
 "color": {"field": "T", "type": "nominal", "scale": {"domain": ["4.2K/5K","20K","40K"], "range": ["#8e9cff","#5a6cf7","#0a1ec2"]}, "legend": null}}},
{"data": {"name": "d"}, "transform": [{"filter": "datum.p == '10T' && datum.lab == 'Geneva'"}], "mark": {"type": "point", "shape": "square", "filled": true, "size": 160, "opacity": 1}, "encoding": {
 "x": {"field": "a", "type": "quantitative", "axis": {"orient": "top", "values": [-40,-20,0,20,40,60,80,100,120,140,160], "tickSize": -6, "labels": false, "domain": false, "grid": false, "title": null}},
 "y": {"field": "v", "type": "quantitative", "axis": {"orient": "right", "values": [100, 1000], "tickSize": -7, "labels": false, "domain": false, "grid": false, "title": null}},
 "color": {"field": "T", "type": "nominal", "legend": null}}},
{"data": {"name": "d"}, "transform": [{"filter": "datum.p == '10T' && datum.lab == 'Sendai' && datum.a == 110"}, {"calculate": "'T = ' + datum.T", "as": "lbl"}], "mark": {"type": "text", "align": "left", "dx": 19, "fontSize": 14, "fontWeight": "bold", "baseline": "middle"}, "encoding": {
 "x": {"field": "a", "type": "quantitative", "axis": {"orient": "top", "values": [-40,-38,-36,-34,-32,-30,-28,-26,-24,-22,-20,-18,-16,-14,-12,-10,-8,-6,-4,-2,0,2,4,6,8,10,12,14,16,18,20,22,24,26,28,30,32,34,36,38,40,42,44,46,48,50,52,54,56,58,60,62,64,66,68,70,72,74,76,78,80,82,84,86,88,90,92,94,96,98,100,102,104,106,108,110,112,114,116,118,120,122,124,126,128,130,132,134,136,138,140,142,144,146,148,150,152,154,156,158,160], "tickSize": -3, "labels": false, "domain": false, "grid": false, "title": null}},
 "y": {"field": "v", "type": "quantitative", "axis": {"orient": "right", "values": [200,300,400,500,600,700,800,900,2000,3000,4000,5000,6000,7000], "tickSize": -3.5, "labels": false, "domain": false, "grid": false, "title": null}},
 "color": {"field": "T", "type": "nominal", "legend": null},
 "text": {"field": "lbl"}}},
{"data": {"name": "panels"}, "transform": [{"filter": "datum.p == '10T'"}], "mark": {"type": "text", "align": "right", "dx": -13, "fontSize": 20, "fontWeight": "bold", "baseline": "alphabetic", "color": "#000"}, "encoding": {"x": {"datum": 160, "type": "quantitative", "axis": null}, "y": {"datum": 4843, "type": "quantitative", "axis": null}, "text": {"field": "p"}}},
{"data": {"name": "panels"}, "transform": [{"filter": "datum.p == '10T'"}], "mark": {"type": "rect", "fill": "#eeeeee", "stroke": "#000", "strokeWidth": 1}, "encoding": {"x": {"datum": -33.2, "type": "quantitative", "axis": null}, "x2": {"datum": -28.1}, "y": {"datum": 218, "type": "quantitative", "axis": null}, "y2": {"datum": 106}}},
{"data": {"name": "panels"}, "transform": [{"filter": "datum.p == '10T'"}], "mark": {"type": "rect", "fill": "#999999"}, "encoding": {"x": {"datum": -27.8, "type": "quantitative", "axis": null}, "x2": {"datum": -22.6}, "y": {"datum": 218, "type": "quantitative", "axis": null}, "y2": {"datum": 106}}},
{"data": {"name": "panels"}, "transform": [{"filter": "datum.p == '10T'"}], "mark": {"type": "rule", "stroke": "#215f99", "strokeWidth": 3.5}, "encoding": {"x": {"datum": -17.3, "type": "quantitative", "axis": null}, "y": {"datum": 122, "type": "quantitative", "axis": null}, "y2": {"datum": 185}}},
{"data": {"name": "panels"}, "transform": [{"filter": "datum.p == '10T'"}], "mark": {"type": "point", "shape": "triangle-up", "filled": true, "size": 90, "color": "#215f99", "opacity": 1}, "encoding": {"x": {"datum": -17.3, "type": "quantitative", "axis": null}, "y": {"datum": 188, "type": "quantitative", "axis": null}}},
{"data": {"name": "panels"}, "transform": [{"filter": "datum.p == '10T'"}], "mark": {"type": "text", "text": "B //", "align": "left", "baseline": "middle", "fontSize": 17, "fontWeight": "bold", "color": "#215f99"}, "encoding": {"x": {"datum": -14.5, "type": "quantitative", "axis": null}, "y": {"datum": 151, "type": "quantitative", "axis": null}}},
{"data": {"name": "panels"}, "transform": [{"filter": "datum.p == '10T'"}], "mark": {"type": "rule", "stroke": "#215f99", "strokeWidth": 3.5}, "encoding": {"x": {"datum": 105.4, "type": "quantitative", "axis": null}, "y": {"datum": 151, "type": "quantitative", "axis": null}, "y2": {"datum": 225}}},
{"data": {"name": "panels"}, "transform": [{"filter": "datum.p == '10T'"}], "mark": {"type": "point", "shape": "triangle-up", "filled": true, "size": 90, "color": "#215f99", "opacity": 1}, "encoding": {"x": {"datum": 105.4, "type": "quantitative", "axis": null}, "y": {"datum": 228, "type": "quantitative", "axis": null}}},
{"data": {"name": "panels"}, "transform": [{"filter": "datum.p == '10T'"}], "mark": {"type": "text", "text": "B ⊥", "align": "left", "baseline": "middle", "fontSize": 17, "fontWeight": "bold", "color": "#215f99"}, "encoding": {"x": {"datum": 108.1, "type": "quantitative", "axis": null}, "y": {"datum": 182, "type": "quantitative", "axis": null}}},
{"data": {"name": "panels"}, "transform": [{"filter": "datum.p == '10T'"}], "mark": {"type": "rect", "fill": "#eeeeee", "stroke": "#000", "strokeWidth": 1}, "encoding": {"x": {"datum": 93.5, "type": "quantitative", "axis": null}, "x2": {"datum": 117.6}, "y": {"datum": 134, "type": "quantitative", "axis": null}, "y2": {"datum": 120}}},
{"data": {"name": "panels"}, "transform": [{"filter": "datum.p == '10T'"}], "mark": {"type": "rect", "fill": "#999999"}, "encoding": {"x": {"datum": 93.5, "type": "quantitative", "axis": null}, "x2": {"datum": 117.6}, "y": {"datum": 120, "type": "quantitative", "axis": null}, "y2": {"datum": 106}}},
{"data": {"name": "panels"}, "transform": [{"filter": "datum.p == '10T'"}], "mark": {"type": "text", "text": "ab plane", "align": "center", "baseline": "middle", "fontSize": 4, "color": "#333"}, "encoding": {"x": {"datum": 105.5, "type": "quantitative", "axis": null}, "y": {"datum": 127, "type": "quantitative", "axis": null}}},
{"data": {"name": "panels"}, "transform": [{"filter": "datum.p == '10T'"}], "mark": {"type": "text", "text": "ab plane", "align": "center", "baseline": "middle", "fontSize": 4, "angle": 90, "color": "#333"}, "encoding": {"x": {"datum": -30.6, "type": "quantitative", "axis": null}, "y": {"datum": 155, "type": "quantitative", "axis": null}}}
]}
]
}
